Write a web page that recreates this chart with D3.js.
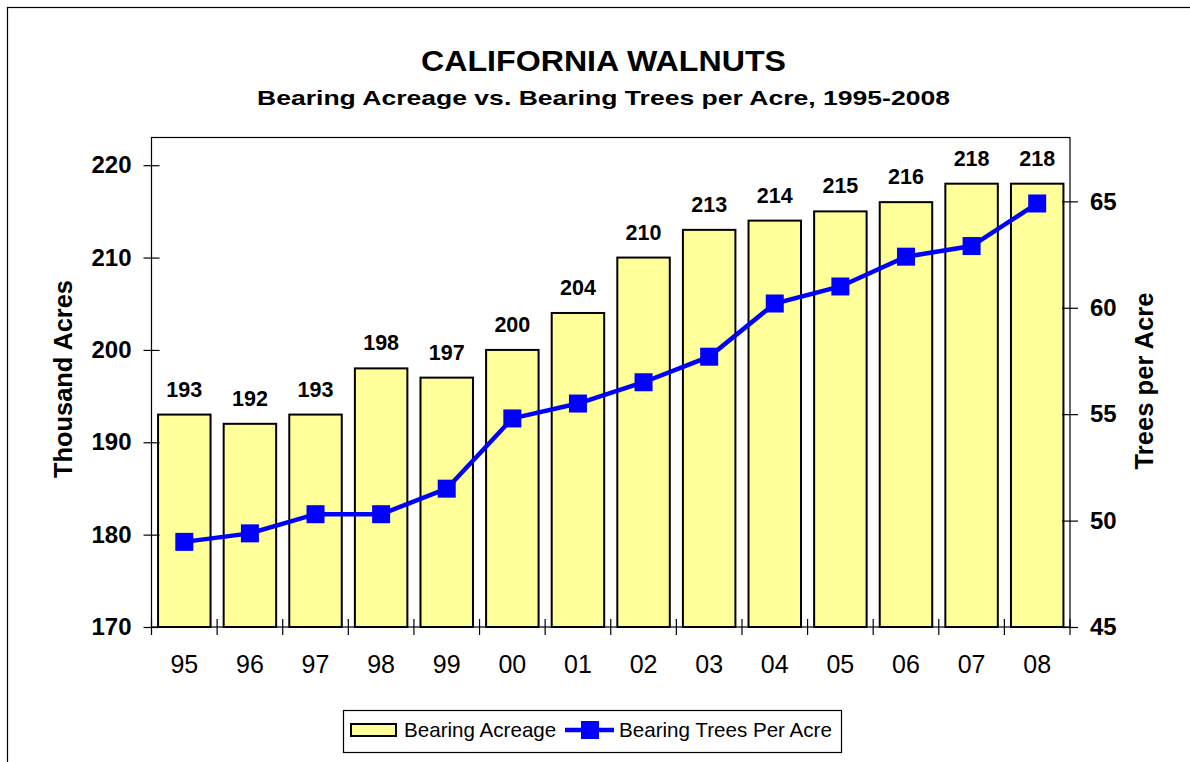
<!DOCTYPE html>
<html>
<head>
<meta charset="utf-8">
<script src="https://cdn.jsdelivr.net/npm/d3@7"></script>
<style>
  body { margin: 0; background: #fff; }
  svg { font-family: "Liberation Sans", Arial, sans-serif; }
</style>
</head>
<body>
<div id="chart"></div>
<script>
// data
const years = ["95", "96", "97", "98", "99", "00", "01", "02", "03", "04", "05", "06", "07", "08"];
const acreage = [193, 192, 193, 198, 197, 200, 204, 210, 213, 214, 215, 216, 218, 218];
const treesPerAcre = [49.0, 49.4, 50.3, 50.3, 51.5, 54.8, 55.5, 56.5, 57.7, 60.2, 61.0, 62.4, 62.9, 64.9];
const leftTicks = [170, 180, 190, 200, 210, 220];
const rightTicks = [45, 50, 55, 60, 65];

const width = 1190;
const height = 762;
const plot = { left: 151.5, right: 1070, top: 137.5, bottom: 627 };

const svg = d3.select("#chart")
  .append("svg")
  .attr("width", width)
  .attr("height", height);

// outer frame (runs off the right and bottom edges)
svg.append("rect")
  .attr("x", 7.5)
  .attr("y", 7.5)
  .attr("width", 1250)
  .attr("height", 800)
  .attr("fill", "none")
  .attr("stroke", "#000")
  .attr("stroke-width", 1.2);

const x = d3.scaleBand()
  .domain(years)
  .range([plot.left, plot.right]);

const yLeft = d3.scaleLinear()
  .domain([170, 223])
  .range([plot.bottom, plot.top]);

const yRight = d3.scaleLinear()
  .domain([45, 68])
  .range([plot.bottom, plot.top]);

// plot area border
svg.append("rect")
  .attr("x", plot.left)
  .attr("y", plot.top)
  .attr("width", plot.right - plot.left)
  .attr("height", plot.bottom - plot.top)
  .attr("fill", "none")
  .attr("stroke", "#000")
  .attr("stroke-width", 1.2);

// Bars
const bw = x.bandwidth();
svg.selectAll(".bar")
  .data(acreage)
  .join("rect")
  .attr("class", "bar")
  .attr("x", (d, i) => x(years[i]) + bw * 0.1)
  .attr("y", d => yLeft(d))
  .attr("width", bw * 0.8)
  .attr("height", d => yLeft(170) - yLeft(d))
  .attr("fill", "#FFFF99")
  .attr("stroke", "#000")
  .attr("stroke-width", 2);

// bar labels
svg.selectAll(".bar-label")
  .data(acreage)
  .join("text")
  .attr("class", "bar-label")
  .attr("x", (d, i) => x(years[i]) + bw / 2)
  .attr("y", d => yLeft(d) - 18)
  .attr("text-anchor", "middle")
  .style("font-size", "21.5px")
  .style("font-weight", "bold")
  .text(d => d);

// Line + square markers
const line = d3.line()
  .x((d, i) => x(years[i]) + bw / 2)
  .y(d => yRight(d));

svg.append("path")
  .datum(treesPerAcre)
  .attr("d", line)
  .attr("fill", "none")
  .attr("stroke", "#0000FF")
  .attr("stroke-width", 4.5);

svg.selectAll(".marker")
  .data(treesPerAcre)
  .join("rect")
  .attr("class", "marker")
  .attr("x", (d, i) => x(years[i]) + bw / 2 - 9)
  .attr("y", d => yRight(d) - 9)
  .attr("width", 18)
  .attr("height", 18)
  .attr("fill", "#0000FF");

// Left axis
const leftAxis = svg.append("g")
  .attr("transform", `translate(${plot.left},0)`)
  .call(d3.axisLeft(yLeft).tickValues(leftTicks).tickSize(8).tickPadding(12));
leftAxis.select(".domain").remove();
leftAxis.selectAll(".tick line").attr("x1", -8).attr("x2", 8).attr("stroke-width", 1.2);
leftAxis.selectAll("text")
  .style("font-size", "24px")
  .style("font-weight", "bold")
  .attr("fill", "#000")
  .attr("font-family", null);

// Right axis
const rightAxis = svg.append("g")
  .attr("transform", `translate(${plot.right},0)`)
  .call(d3.axisRight(yRight).tickValues(rightTicks).tickSize(8).tickPadding(12));
rightAxis.select(".domain").remove();
rightAxis.selectAll(".tick line").attr("x1", -8).attr("x2", 8).attr("stroke-width", 1.2);
rightAxis.selectAll("text")
  .style("font-size", "24px")
  .style("font-weight", "bold")
  .attr("fill", "#000")
  .attr("font-family", null);

// Bottom axis: labels centred, ticks on category boundaries
const bottomAxis = svg.append("g")
  .attr("transform", `translate(0,${plot.bottom})`)
  .call(d3.axisBottom(x).tickSize(0).tickPadding(28));
bottomAxis.select(".domain").remove();
bottomAxis.selectAll("text")
  .style("font-size", "25px")
  .attr("fill", "#000")
  .attr("font-family", null);

svg.selectAll(".xtick")
  .data(years.concat(["end"]))
  .join("line")
  .attr("class", "xtick")
  .attr("x1", (d, i) => i < years.length ? x(d) : plot.right)
  .attr("x2", (d, i) => i < years.length ? x(d) : plot.right)
  .attr("y1", plot.bottom - 8)
  .attr("y2", plot.bottom + 8)
  .attr("stroke", "#000")
  .attr("stroke-width", 1.2);

// Axis titles
svg.append("text")
  .attr("transform", `translate(72,379) rotate(-90)`)
  .attr("text-anchor", "middle")
  .attr("textLength", 198)
  .attr("lengthAdjust", "spacingAndGlyphs")
  .style("font-size", "25px")
  .style("font-weight", "bold")
  .text("Thousand Acres");

svg.append("text")
  .attr("transform", `translate(1153,381) rotate(-90)`)
  .attr("text-anchor", "middle")
  .attr("textLength", 177)
  .attr("lengthAdjust", "spacingAndGlyphs")
  .style("font-size", "25px")
  .style("font-weight", "bold")
  .text("Trees per Acre");

// Titles
svg.append("text")
  .attr("x", 603.5)
  .attr("y", 71)
  .attr("text-anchor", "middle")
  .attr("textLength", 365)
  .attr("lengthAdjust", "spacingAndGlyphs")
  .style("font-size", "29px")
  .style("font-weight", "bold")
  .text("CALIFORNIA WALNUTS");

svg.append("text")
  .attr("x", 603.5)
  .attr("y", 105)
  .attr("text-anchor", "middle")
  .attr("textLength", 693)
  .attr("lengthAdjust", "spacingAndGlyphs")
  .style("font-size", "21px")
  .style("font-weight", "bold")
  .text("Bearing Acreage vs. Bearing Trees per Acre, 1995-2008");

// Legend
const legend = svg.append("g");
legend.append("rect")
  .attr("x", 343.5)
  .attr("y", 710.5)
  .attr("width", 498)
  .attr("height", 42)
  .attr("fill", "#fff")
  .attr("stroke", "#000")
  .attr("stroke-width", 1.2);

legend.append("rect")
  .attr("x", 351)
  .attr("y", 724)
  .attr("width", 45)
  .attr("height", 12)
  .attr("fill", "#FFFF99")
  .attr("stroke", "#000")
  .attr("stroke-width", 2);

legend.append("text")
  .attr("x", 404)
  .attr("y", 737)
  .style("font-size", "20.6px")
  .text("Bearing Acreage");

legend.append("line")
  .attr("x1", 565)
  .attr("x2", 614)
  .attr("y1", 730)
  .attr("y2", 730)
  .attr("stroke", "#0000FF")
  .attr("stroke-width", 4.5);

legend.append("rect")
  .attr("x", 581)
  .attr("y", 721)
  .attr("width", 18)
  .attr("height", 18)
  .attr("fill", "#0000FF");

legend.append("text")
  .attr("x", 619)
  .attr("y", 737)
  .style("font-size", "20.6px")
  .text("Bearing Trees Per Acre");
</script>
</body>
</html>
